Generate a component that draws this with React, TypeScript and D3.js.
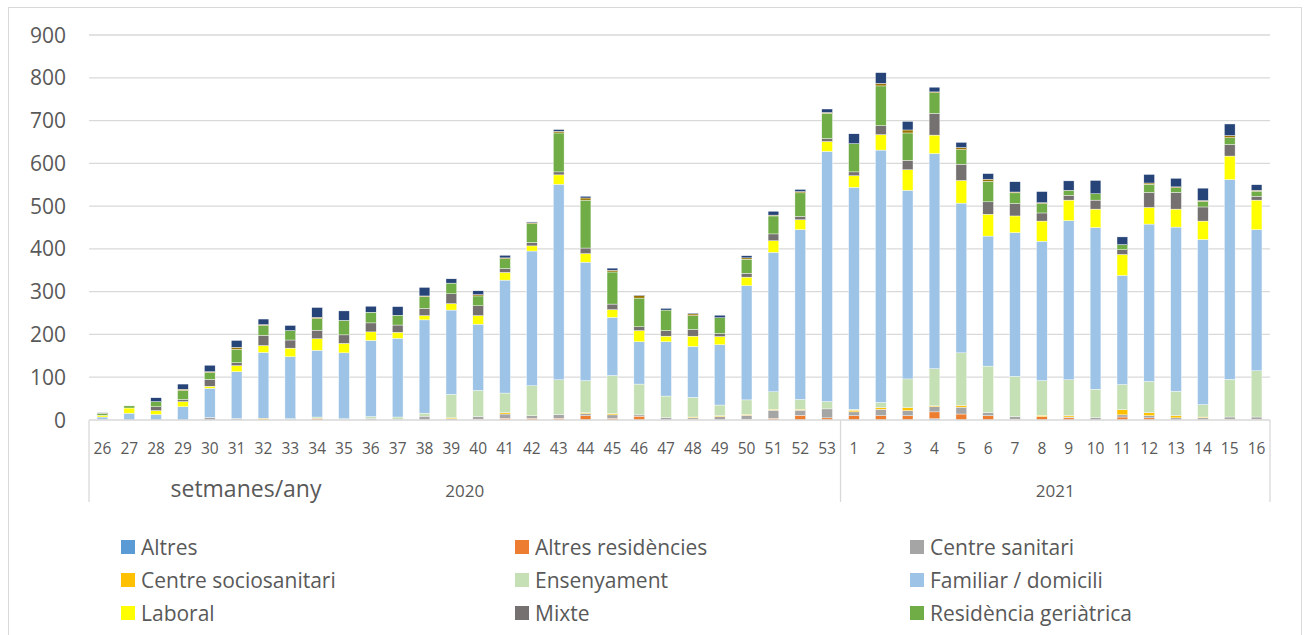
import React from "react";
import * as d3 from "d3";

// weeks: 26..53 of 2020, then 1..16 of 2021
const weeks2020 = d3.range(26, 54).map(String);
const weeks2021 = d3.range(1, 17).map(String);
const weeks = [...weeks2020.map((w) => "2020-" + w), ...weeks2021.map((w) => "2021-" + w)];
const weekLabels = [...weeks2020, ...weeks2021];
const yTicks = [0, 100, 200, 300, 400, 500, 600, 700, 800, 900];

const altres = [0,0,0,0,0,0,0,0,0,0,0,0,0,0,0,0,0,0,0,0,0,0,0,0,0,0,0,0, 0,0,0,3,0,0,0,0,0,0,0,0,0,0,0,0];
const altresResidencies = [0,0,0,0,0,0,0,0,4,0,0,0,0,0,2,4,4,4,10,4,9,0,2,0,2,4,11,5, 10,10,10,16,14,10,2,8,5,0,7,5,0,0,2,2];
const centreSanitari = [1,0,0,0,6,4,0,2,0,2,4,2,9,3,6,10,6,9,5,8,3,6,3,8,9,19,12,21, 9,15,12,12,16,7,6,0,2,6,5,5,5,5,5,5];
const centreSociosanitari = [0,0,0,0,0,0,4,0,0,0,0,0,0,2,0,3,0,0,2,3,0,0,2,2,2,2,2,0, 4,4,7,2,4,0,0,3,3,0,12,7,5,2,0,0];
const ensenyament = [0,0,0,0,0,0,0,1,3,1,4,5,7,55,61,46,70,81,75,89,72,50,46,25,34,41,23,17, 2,12,67,87,123,109,94,81,84,66,59,73,57,29,88,108];
const familiar = [6,16,13,31,68,109,154,145,156,154,178,184,218,197,155,264,315,457,277,136,99,127,119,141,267,326,397,585, 519,590,441,503,350,304,336,326,372,378,255,368,384,386,467,330];
const laboral = [4,12,9,12,5,14,16,20,27,22,20,14,10,15,20,18,12,22,20,18,26,13,24,19,20,27,23,23, 27,36,48,43,53,51,39,47,48,43,49,39,42,43,55,69];
const mixte = [0,0,9,5,16,7,24,19,20,20,21,17,17,23,23,9,8,7,13,13,9,13,16,7,9,16,8,7, 9,21,22,51,38,29,29,19,11,21,11,35,39,33,27,9];
const residenciaGeriatrica = [4,5,12,21,16,31,23,22,27,34,25,23,27,25,23,23,44,91,112,75,67,48,32,37,33,42,55,59, 66,93,64,48,34,48,25,22,12,15,12,19,11,13,16,12];
const residenciaDiscapacitat = [1,0,0,3,2,5,2,0,3,0,0,0,2,0,3,2,2,4,5,4,6,0,4,0,3,2,3,2, 0,6,7,2,5,5,2,2,0,0,0,3,2,2,5,2];
const senseInformacio = [1,0,9,12,15,16,13,12,23,22,14,20,20,10,9,6,2,4,4,5,1,4,2,6,5,9,5,8, 23,25,20,11,12,13,24,26,22,31,18,20,20,29,27,13];

const series = [
  { name: "Altres", color: "#5B9BD5", values: altres, legend: true },
  { name: "Altres residències", color: "#ED7D31", values: altresResidencies, legend: true },
  { name: "Centre sanitari", color: "#A5A5A5", values: centreSanitari, legend: true },
  { name: "Centre sociosanitari", color: "#FFC000", values: centreSociosanitari, legend: true },
  { name: "Ensenyament", color: "#C5E0B4", values: ensenyament, legend: true },
  { name: "Familiar / domicili", color: "#9DC3E6", values: familiar, legend: true },
  { name: "Laboral", color: "#FFFF00", values: laboral, legend: true },
  { name: "Mixte", color: "#767171", values: mixte, legend: true },
  { name: "Residència geriàtrica", color: "#70AD47", values: residenciaGeriatrica, legend: true },
  // these two sit on the legend row that is cut off at the bottom
  { name: "Residència discapacitat", color: "#997300", values: residenciaDiscapacitat, legend: false },
  { name: "Sense informació", color: "#264478", values: senseInformacio, legend: false },
];

const W = 1305;
const H = 635;
const plot = { left: 89, right: 1270, top: 35, bottom: 420 };
const font = "'Open Sans', 'Liberation Sans', sans-serif";
const textColor = "#595959";
const gridColor = "#D9D9D9";

const App = () => {
  const x = d3.scaleBand<string>().domain(weeks).range([plot.left, plot.right]).paddingInner(0.6).paddingOuter(0.3);
  const y = d3.scaleLinear().domain([0, 900]).range([plot.bottom, plot.top]);
  const step = x.step();

  const table = weeks.map((w, i) => {
    const row: any = { week: w };
    series.forEach((s) => (row[s.name] = s.values[i]));
    return row;
  });
  const stacked = d3.stack().keys(series.map((s) => s.name))(table);

  const sepX = plot.left + step * weeks2020.length;

  const legendCols = [121, 515, 910];
  const legendRows = [547, 580, 613];
  const legendItems = series.filter((s) => s.legend);

  return (
    <svg width={W} height={H} style={{ position: "absolute", left: 0, top: 0, display: "block", background: "#fff" }} fontFamily={font}>
      {/* chart frame */}
      <rect x={8.5} y={7.5} width={1293} height={H + 20} fill="none" stroke={gridColor} strokeWidth={1} />

      {/* gridlines */}
      {yTicks.filter((t) => t > 0).map((t) => (
        <line key={t} x1={plot.left} x2={plot.right} y1={y(t)} y2={y(t)} stroke={gridColor} strokeWidth={1.3} />
      ))}

      {/* y labels */}
      {yTicks.map((t) => (
        <text key={t} x={66} y={y(t)} dy="0.36em" textAnchor="end" fontSize={21} fill={textColor}>
          {t}
        </text>
      ))}

      {/* bars */}
      {stacked.map((layer, si) => (
        <g key={layer.key} fill={series[si].color}>
          {layer.map((d, i) =>
            d[1] - d[0] > 0 ? (
              <rect
                key={i}
                x={x(weeks[i])}
                width={x.bandwidth()}
                y={y(d[1])}
                height={y(d[0]) - y(d[1])}
                stroke="#ffffff"
                strokeWidth={0.4}
              />
            ) : null
          )}
        </g>
      ))}

      {/* x axis */}
      <line x1={plot.left} x2={plot.right} y1={plot.bottom} y2={plot.bottom} stroke={gridColor} strokeWidth={1.3} />
      {[plot.left, sepX, plot.right].map((vx, i) => (
        <line key={i} x1={vx} x2={vx} y1={plot.bottom} y2={502} stroke={gridColor} strokeWidth={1.3} />
      ))}
      {weeks.map((w, i) => (
        <text key={w} x={x(w)! + x.bandwidth() / 2} y={448} dy="0.36em" textAnchor="middle" fontSize={15.5} fill={textColor}>
          {weekLabels[i]}
        </text>
      ))}
      <text x={(plot.left + sepX) / 2} y={491} dy="0.36em" textAnchor="middle" fontSize={17} fill={textColor}>
        2020
      </text>
      <text x={(sepX + plot.right) / 2} y={491} dy="0.36em" textAnchor="middle" fontSize={17} fill={textColor}>
        2021
      </text>
      <text x={246} y={489} dy="0.36em" textAnchor="middle" fontSize={23} fill={textColor}>
        setmanes/any
      </text>

      {/* legend */}
      {legendItems.map((s, i) => {
        const cx = legendCols[i % 3];
        const cy = legendRows[Math.floor(i / 3)];
        return (
          <g key={s.name}>
            <rect x={cx} y={cy - 7} width={14} height={14} fill={s.color} />
            <text x={cx + 20} y={cy} dy="0.36em" fontSize={21} fill={textColor}>
              {s.name}
            </text>
          </g>
        );
      })}
    </svg>
  );
};

export default App;
